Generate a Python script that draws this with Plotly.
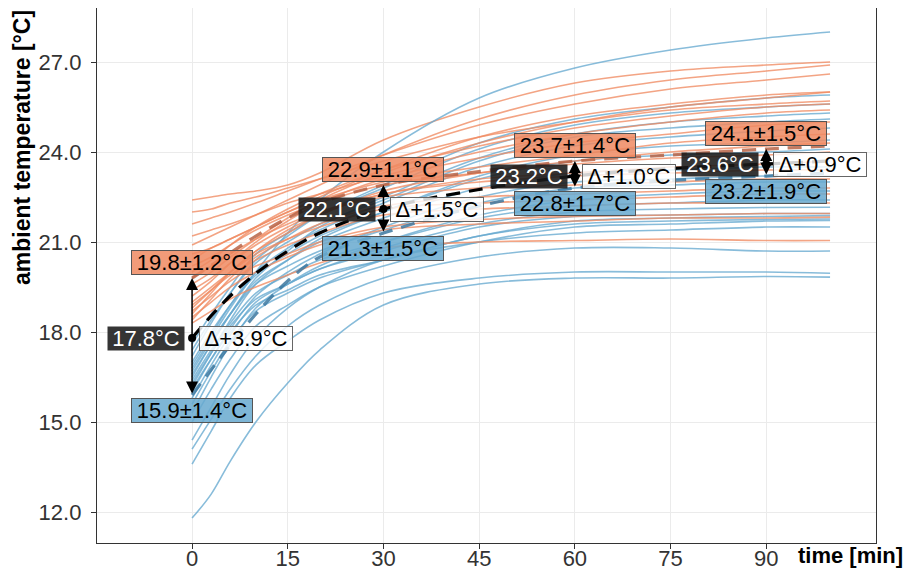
import plotly.graph_objects as go

# ---------------- data ----------------
sample_time = [0, 3, 6, 10, 15, 20, 30, 45, 60, 75, 90, 100]

orange_runs = [
    [22.4, 22.5, 22.6, 22.7, 22.9, 23.3, 24.4, 25.5, 26.3, 26.7, 26.9, 27.0],
    [20.9, 21.2, 21.5, 21.9, 22.4, 22.9, 23.9, 25.1, 25.9, 26.4, 26.7, 26.9],
    [21.6, 21.8, 22.0, 22.3, 22.7, 23.1, 23.9, 24.9, 25.6, 26.1, 26.4, 26.6],
    [20.4, 20.8, 21.1, 21.5, 22.0, 22.5, 23.4, 24.5, 25.2, 25.6, 25.9, 26.0],
    [19.6, 20.0, 20.5, 21.1, 21.8, 22.4, 23.3, 24.3, 25.0, 25.5, 25.8, 26.0],
    [22.0, 22.1, 22.3, 22.5, 22.8, 23.1, 23.7, 24.5, 25.0, 25.4, 25.6, 25.7],
    [20.0, 20.4, 20.9, 21.5, 22.1, 22.6, 23.4, 24.2, 24.8, 25.2, 25.5, 25.6],
    [21.2, 21.4, 21.6, 21.9, 22.3, 22.6, 23.2, 24.0, 24.6, 25.0, 25.3, 25.4],
    [19.2, 19.7, 20.3, 21.0, 21.7, 22.3, 23.1, 23.8, 24.3, 24.6, 24.9, 25.0],
    [20.6, 20.8, 21.1, 21.5, 22.0, 22.4, 23.0, 23.5, 23.9, 24.3, 24.5, 24.6],
    [18.8, 19.4, 20.0, 20.7, 21.4, 21.9, 22.7, 23.3, 23.7, 24.0, 24.2, 24.3],
    [20.2, 20.5, 20.9, 21.4, 21.9, 22.3, 22.9, 23.3, 23.6, 23.8, 23.9, 24.0],
    [19.4, 19.8, 20.3, 20.9, 21.5, 22.0, 22.6, 23.1, 23.3, 23.5, 23.6, 23.7],
    [18.6, 19.3, 20.0, 20.7, 21.3, 21.9, 22.6, 23.0, 23.2, 23.3, 23.4, 23.4],
    [19.8, 20.2, 20.6, 21.1, 21.6, 22.0, 22.5, 22.8, 22.9, 23.0, 23.1, 23.1],
    [18.4, 19.1, 19.8, 20.5, 21.1, 21.6, 22.2, 22.5, 22.6, 22.7, 22.8, 22.8],
    [19.0, 19.5, 20.0, 20.6, 21.1, 21.5, 22.1, 22.3, 22.4, 22.5, 22.6, 22.6],
    [18.9, 19.4, 19.9, 20.4, 20.9, 21.3, 21.9, 22.1, 22.2, 22.3, 22.3, 22.3],
    [18.7, 19.2, 19.7, 20.2, 20.6, 21.0, 21.5, 21.75, 21.85, 21.9, 21.95, 21.95],
    [18.5, 19.0, 19.5, 20.0, 20.5, 20.9, 21.4, 21.6, 21.7, 21.8, 21.8, 21.83],
    [18.3, 18.7, 19.1, 19.5, 19.9, 20.3, 20.8, 21.0, 21.05, 21.1, 21.05, 21.05],
]

blue_runs = [
    [16.8, 17.8, 18.8, 20.0, 21.3, 22.4, 24.0, 25.8, 26.8, 27.4, 27.8, 28.0],
    [17.2, 18.3, 19.3, 20.4, 21.2, 21.9, 22.9, 24.3, 25.1, 25.5, 25.8, 25.9],
    [17.6, 18.6, 19.5, 20.6, 21.3, 21.9, 22.8, 24.1, 24.9, 25.3, 25.5, 25.6],
    [16.5, 17.6, 18.6, 19.8, 20.7, 21.5, 22.5, 23.8, 24.6, 25.0, 25.2, 25.3],
    [17.4, 18.4, 19.3, 20.3, 21.0, 21.6, 22.4, 23.7, 24.5, 24.8, 25.0, 25.1],
    [16.9, 17.9, 18.9, 20.0, 20.8, 21.4, 22.3, 23.5, 24.2, 24.5, 24.7, 24.8],
    [16.2, 17.3, 18.4, 19.6, 20.4, 21.1, 22.0, 23.2, 23.9, 24.2, 24.3, 24.4],
    [17.0, 18.0, 18.9, 19.9, 20.6, 21.2, 22.0, 23.1, 23.7, 23.9, 24.0, 24.1],
    [16.6, 17.6, 18.6, 19.7, 20.4, 21.0, 21.8, 22.8, 23.3, 23.4, 23.5, 23.5],
    [16.0, 17.1, 18.1, 19.2, 20.0, 20.6, 21.5, 22.5, 23.0, 23.1, 23.2, 23.2],
    [16.7, 17.7, 18.6, 19.6, 20.2, 20.7, 21.4, 22.3, 22.8, 22.9, 23.0, 23.0],
    [15.3, 16.5, 17.6, 18.8, 19.6, 20.2, 21.0, 21.9, 22.4, 22.6, 22.7, 22.7],
    [16.4, 17.4, 18.3, 19.3, 19.9, 20.4, 21.0, 21.8, 22.2, 22.3, 22.4, 22.4],
    [15.8, 16.9, 17.9, 19.0, 19.6, 20.1, 20.8, 21.6, 22.0, 22.1, 22.15, 22.16],
    [16.3, 17.3, 18.2, 19.1, 19.6, 20.1, 20.7, 21.5, 21.85, 21.9, 21.95, 21.95],
    [15.6, 16.7, 17.7, 18.7, 19.3, 19.8, 20.4, 21.2, 21.7, 21.8, 21.85, 21.88],
    [16.1, 17.1, 18.0, 18.9, 19.4, 19.9, 20.4, 21.2, 21.6, 21.7, 21.75, 21.77],
    [15.0, 16.1, 17.1, 18.2, 18.9, 19.5, 20.2, 21.0, 21.5, 21.6, 21.7, 21.72],
    [14.4, 15.5, 16.6, 17.8, 18.8, 19.5, 20.4, 21.0, 21.3, 21.4, 21.5, 21.5],
    [14.1, 15.1, 16.1, 17.2, 18.2, 18.9, 19.8, 20.5, 20.8, 20.8, 20.7, 20.7],
    [13.6, 14.7, 15.8, 16.9, 17.7, 18.4, 19.3, 19.8, 20.0, 20.0, 20.0, 19.96],
    [11.8, 12.6, 13.7, 15.0, 16.3, 17.4, 18.9, 19.6, 19.8, 19.8, 19.85, 19.83],
]

mean_time = [0, 5, 10, 15, 20, 30, 45, 60, 75, 90, 100]
orange_mean = [19.8, 20.5, 21.2, 21.8, 22.3, 22.9, 23.35, 23.7, 23.9, 24.1, 24.2]
blue_mean = [15.9, 17.3, 18.6, 19.7, 20.5, 21.3, 22.2, 22.8, 23.05, 23.2, 23.3]
overall_mean = [17.8, 19.0, 19.95, 20.7, 21.3, 22.1, 22.75, 23.2, 23.45, 23.6, 23.7]

label_time = [0, 30, 60, 90]
orange_label_mean = [19.8, 22.9, 23.7, 24.1]
orange_label_sd = [1.2, 1.1, 1.4, 1.5]
blue_label_mean = [15.9, 21.3, 22.8, 23.2]
blue_label_sd = [1.4, 1.5, 1.7, 1.9]
overall_label_mean = [17.8, 22.1, 23.2, 23.6]
label_delta = [3.9, 1.5, 1.0, 0.9]

x_ticks = [0, 15, 30, 45, 60, 75, 90]
y_ticks = [12, 15, 18, 21, 24, 27]

# ---------------- styling ----------------
FONT = "Liberation Sans, Arial, Helvetica, sans-serif"
ORANGE_LINE = "rgba(239,138,98,0.78)"
BLUE_LINE = "rgba(103,169,207,0.78)"

fig = go.Figure()

# individual runs, interleaved
n = max(len(orange_runs), len(blue_runs))
for i in range(n):
    if i < len(orange_runs):
        fig.add_trace(go.Scatter(x=sample_time, y=orange_runs[i], mode="lines",
                                 line=dict(color=ORANGE_LINE, width=1.6, shape="spline", smoothing=1.0),
                                 hoverinfo="skip", showlegend=False))
    if i < len(blue_runs):
        fig.add_trace(go.Scatter(x=sample_time, y=blue_runs[i], mode="lines",
                                 line=dict(color=BLUE_LINE, width=1.6, shape="spline", smoothing=1.0),
                                 hoverinfo="skip", showlegend=False))

# group means (dashed)
fig.add_trace(go.Scatter(x=mean_time, y=orange_mean, mode="lines",
                         line=dict(color="rgba(185,100,70,0.85)", width=3.2, dash="14px,9px",
                                   shape="spline", smoothing=1.0),
                         hoverinfo="skip", showlegend=False))
fig.add_trace(go.Scatter(x=mean_time, y=blue_mean, mode="lines",
                         line=dict(color="rgba(60,120,160,0.85)", width=3.2, dash="14px,9px",
                                   shape="spline", smoothing=1.0),
                         hoverinfo="skip", showlegend=False))
fig.add_trace(go.Scatter(x=mean_time, y=overall_mean, mode="lines",
                         line=dict(color="black", width=3.2, dash="14px,9px",
                                   shape="spline", smoothing=1.0),
                         hoverinfo="skip", showlegend=False))

annotations = []
for t, om, osd, bm, bsd, am, d in zip(label_time, orange_label_mean, orange_label_sd,
                                       blue_label_mean, blue_label_sd,
                                       overall_label_mean, label_delta):
    # double-headed arrow from blue mean to orange mean
    annotations.append(dict(x=t, y=om, ax=t, ay=bm, xref="x", yref="y",
                            axref="x", ayref="y", text="", showarrow=True,
                            arrowhead=2, arrowside="end+start", arrowsize=1.6,
                            arrowwidth=1.5, arrowcolor="black", standoff=0, startstandoff=0))
    # orange label
    annotations.append(dict(x=t, y=om, xref="x", yref="y", text=f"{om:.1f}±{osd:.1f}°C",
                            showarrow=False, xanchor="center", yanchor="bottom", yshift=3,
                            font=dict(family=FONT, size=22, color="black"),
                            bgcolor="rgba(239,138,98,0.85)", bordercolor="#555",
                            borderwidth=1, borderpad=0, width=120, height=23))
    # blue label
    annotations.append(dict(x=t, y=bm, xref="x", yref="y", text=f"{bm:.1f}±{bsd:.1f}°C",
                            showarrow=False, xanchor="center", yanchor="top", yshift=-3,
                            font=dict(family=FONT, size=22, color="black"),
                            bgcolor="rgba(103,169,207,0.85)", bordercolor="#555",
                            borderwidth=1, borderpad=0, width=120, height=23))
    # overall mean label (dark)
    annotations.append(dict(x=t, y=am, xref="x", yref="y", text=f"{am:.1f}°C",
                            showarrow=False, xanchor="right", yanchor="middle", xshift=-7,
                            font=dict(family=FONT, size=22, color="white"),
                            bgcolor="rgba(25,25,25,0.88)", bordercolor="rgba(25,25,25,0.0)",
                            borderwidth=1, borderpad=0, width=76, height=23))
    # delta label
    annotations.append(dict(x=t, y=am, xref="x", yref="y", text=f"Δ+{d:.1f}°C",
                            showarrow=False, xanchor="left", yanchor="middle", xshift=7,
                            font=dict(family=FONT, size=22, color="black"),
                            bgcolor="rgba(255,255,255,0.82)", bordercolor="#666",
                            borderwidth=1, borderpad=0, width=92, height=23))

# black dots at the overall mean
fig.add_trace(go.Scatter(x=label_time, y=overall_label_mean, mode="markers",
                         marker=dict(color="black", size=8),
                         hoverinfo="skip", showlegend=False))

# axis titles
annotations.append(dict(text="<b>ambient temperature [°C]</b>", textangle=-90,
                        xref="paper", yref="paper", x=-0.097, y=1.0,
                        xanchor="center", yanchor="top", showarrow=False,
                        font=dict(family=FONT, size=23, color="black")))
annotations.append(dict(text="<b>time [min]</b>", xref="paper", yref="paper",
                        x=1.037, y=-0.024, xanchor="right", yanchor="middle",
                        showarrow=False, font=dict(family=FONT, size=22, color="black")))

axis_common = dict(showgrid=True, gridcolor="#EBEBEB", gridwidth=1.3, zeroline=False,
                   showline=True, linecolor="#333333", linewidth=1.3, mirror=True,
                   ticks="outside", ticklen=5, tickcolor="#333333", tickwidth=1.2,
                   tickfont=dict(family=FONT, size=22, color="#333333"))

# the page body has an 8px margin, so the figure is 8px smaller than the window
fig.update_layout(
    width=904, height=571,
    margin=dict(l=89, r=36, t=0, b=36, autoexpand=False),
    paper_bgcolor="white", plot_bgcolor="white",
    xaxis=dict(range=[-14.9, 107.2], tickvals=x_ticks, automargin=False,
               ticklabelstandoff=-10, **axis_common),
    yaxis=dict(range=[10.97, 28.8], tickvals=y_ticks, tickformat=".1f",
               ticklabelstandoff=5, automargin=False, **axis_common),
    annotations=annotations,
    showlegend=False,
)

fig.write_html("out.html")
